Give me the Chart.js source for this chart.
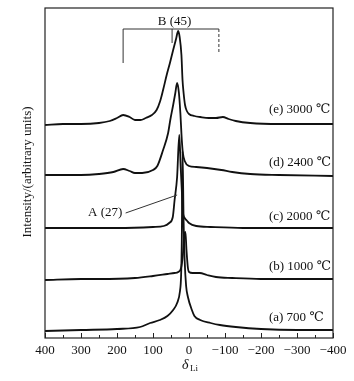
<!DOCTYPE html>
<html>
<head>
<meta charset="utf-8">
<script src="https://cdn.jsdelivr.net/npm/chart.js@4.4.1/dist/chart.umd.min.js"></script>
<style>
  body { margin: 0; background: #fff; }
  #wrap { width: 354px; height: 381px; }
</style>
</head>
<body>
<div id="wrap"><canvas id="nmrChart" width="354" height="381"></canvas></div>
<script>
// chemical shift (ppm) and intensity above each trace's own baseline
const shiftE = [400, 350, 300, 250, 220, 200, 183, 165, 150, 135, 120, 103, 90, 80, 72, 62, 53, 44, 36, 30, 26, 21, 18, 15, 11, 6, 0, -15, -31, -55, -75, -94, -110, -130, -170, -250, -300, -400];
const intE   = [0, 1, 1, 2, 4, 7, 10, 8, 5, 5, 7, 10, 15, 24, 35, 50, 62, 75, 86, 94, 88, 70, 45, 32, 20, 14, 11, 9, 8, 7, 7, 8, 6, 4, 2, 1, 1, 1];

const shiftD = [400, 300, 250, 210, 183, 165, 150, 130, 100, 88, 72, 58, 52, 44, 38, 33, 28, 24, 20, 17, 12, 0, -20, -50, -90, -120, -170, -250, -400];
const intD   = [0, 0, 1, 3, 6, 4, 2, 2, 5, 9, 25, 42, 55, 70, 82, 92, 82, 62, 35, 22, 14, 9, 8, 7, 5, 3, 1, 0, -1];

const shiftC = [400, 200, 100, 70, 55, 45, 40, 33, 27, 23, 20, 17, 12, 5, 0, -20, -60, -150, -400];
const intC   = [0, 0, 1, 2, 5, 11, 28, 51, 93, 60, 38, 16, 10, 7, 5, 2, 1, 0, 0];

const shiftB = [400, 300, 250, 150, 100, 60, 40, 30, 22, 17, 13, 10, 7, 3, 0, -10, -30, -50, -75, -120, -200, -400];
const intB   = [0, 1, 1, 2, 4, 6, 7, 8, 12, 25, 45, 48, 30, 12, 8, 7, 7, 5, 3, 2, 1, 1];

const shiftA = [400, 300, 200, 136, 108, 81, 60, 44, 33, 25, 22, 20, 18, 15, 12, 8, 3, -8, -15, -31, -60, -86, -130, -200, -300, -400];
const intA   = [0, 1, 2, 4, 8, 11, 15, 21, 28, 40, 55, 90, 180, 110, 70, 45, 34, 21, 15, 11, 8, 6, 4, 2, 1, 1];

const traceLabels = ['(a) 700 \u2103', '(b) 1000 \u2103', '(c) 2000 \u2103', '(d) 2400 \u2103', '(e) 3000 \u2103'];
const traceOffsets = [7, 58, 110, 163, 213];
const labelRise = [13, 13, 11, 12, 15];
const xTicks = [400, 300, 200, 100, 0, -100, -200, -300, -400];

function pts(xs, ys, off) {
  return xs.map((x, i) => ({ x: x, y: ys[i] + off }));
}

const series = [
  [shiftA, intA], [shiftB, intB], [shiftC, intC], [shiftD, intD], [shiftE, intE]
];

const datasets = series.map((s, i) => ({
  data: pts(s[0], s[1], traceOffsets[i]),
  showLine: true,
  borderColor: '#111',
  borderWidth: 1.8,
  pointRadius: 0,
  cubicInterpolationMode: 'monotone',
  fill: false
}));

const serif = '"Liberation Serif", "DejaVu Serif", serif';

const extras = {
  id: 'extras',
  afterDraw(chart) {
    const c = chart.ctx, a = chart.chartArea;
    const xs = chart.scales.x, ys = chart.scales.y;
    const px = v => xs.getPixelForValue(v), py = v => ys.getPixelForValue(v);
    c.save();
    // frame
    c.strokeStyle = '#222';
    c.lineWidth = 1.2;
    c.strokeRect(a.left, a.top, a.right - a.left, a.bottom - a.top);
    // inner ticks
    c.lineWidth = 1;
    for (let v = -400; v <= 400; v += 50) {
      const x = Math.round(px(v)) + 0.5;
      const len = v % 100 === 0 ? 5 : 3;
      c.beginPath();
      c.moveTo(x, a.bottom);
      c.lineTo(x, a.bottom - len);
      c.stroke();
    }
    // trace labels
    c.fillStyle = '#111';
    c.font = '13px ' + serif;
    c.textAlign = 'left';
    c.textBaseline = 'middle';
    traceLabels.forEach((t, i) => {
      c.fillText(t, px(-222), py(traceOffsets[i] + labelRise[i]));
    });
    // bracket B (45)
    c.strokeStyle = '#333';
    c.lineWidth = 1;
    c.beginPath();
    c.moveTo(px(183), py(275));
    c.lineTo(px(183), py(309));
    c.lineTo(px(-83), py(309));
    c.moveTo(px(47), py(309));
    c.lineTo(px(47), py(295));
    c.stroke();
    c.setLineDash([3, 2]);
    c.beginPath();
    c.moveTo(px(-83), py(309));
    c.lineTo(px(-83), py(285));
    c.stroke();
    c.setLineDash([]);
    c.textAlign = 'center';
    c.fillText('B (45)', px(40), py(316));
    // A (27) leader
    c.beginPath();
    c.moveTo(px(176), py(125));
    c.lineTo(px(33), py(143));
    c.stroke();
    c.textAlign = 'right';
    c.fillText('A (27)', px(185), py(125));
    // y title
    c.save();
    c.translate(28, 172);
    c.rotate(-Math.PI / 2);
    c.textAlign = 'center';
    c.font = '13px ' + serif;
    c.fillText('Intensity/(arbitrary units)', 0, 0);
    c.restore();
    // x title delta_Li
    const cx = px(0);
    c.textAlign = 'left';
    c.font = 'italic 14px ' + serif;
    c.fillText('\u03b4', cx - 7, 365);
    c.font = '9px ' + serif;
    c.fillText('Li', cx + 1, 369);
    c.restore();
  }
};

new Chart(document.getElementById('nmrChart'), {
  type: 'scatter',
  data: { datasets: datasets },
  options: {
    responsive: false,
    animation: false,
    layout: { padding: { left: 45, right: 21, top: 8, bottom: 0 } },
    plugins: { legend: { display: false }, tooltip: { enabled: false } },
    scales: {
      x: {
        type: 'linear',
        reverse: true,
        min: -400,
        max: 400,
        afterBuildTicks: s => { s.ticks = xTicks.map(v => ({ value: v })); },
        afterFit: s => { s.height = 43; },
        grid: { display: false, drawTicks: false },
        border: { display: false },
        ticks: {
          autoSkip: false,
          maxRotation: 0,
          padding: 5,
          color: '#111',
          font: { family: serif, size: 13 },
          callback: v => (v < 0 ? '\u2212' + Math.abs(v) : String(v))
        }
      },
      y: {
        display: false,
        min: 0,
        max: 330
      }
    }
  },
  plugins: [extras]
});
</script>
</body>
</html>
